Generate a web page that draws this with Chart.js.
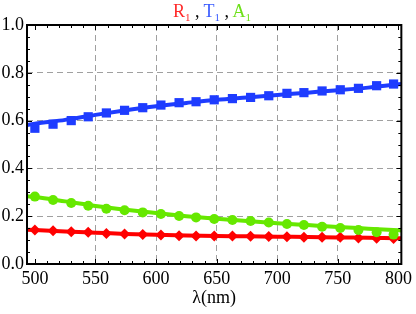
<!DOCTYPE html>
<html>
<head>
<meta charset="utf-8">
<script src="https://cdn.jsdelivr.net/npm/chart.js@4"></script>
<style>
  body { margin: 0; background: #fff; }
  #wrap { position: relative; width: 416px; height: 314px; }
  #title {
    position: absolute; top: 2px; left: 212px; transform: translateX(-50%);
    font: 18px "Liberation Serif", serif; line-height: 1; white-space: nowrap;
  }
  #title sub { font-size: 11px; vertical-align: -4px; line-height: 0; }
</style>
</head>
<body>
<div id="wrap">
  <canvas id="chart" width="416" height="314"></canvas>
  <div id="title"><span style="color:#ff2a2a">R<sub>1</sub></span> , <span style="color:#3a5cff">T<sub>1</sub></span> , <span style="color:#6ee01a">A<sub>1</sub></span></div>
</div>
<script>
// wavelengths of the measured points (nm)
const markerX = [500, 515, 530, 544, 559, 574, 589, 604, 619, 633, 648, 663, 678, 693, 708, 722, 737, 752, 767, 782, 796];
const reflectPts = [0.142, 0.139, 0.135, 0.133, 0.128, 0.126, 0.123, 0.121, 0.118, 0.117, 0.117, 0.117, 0.116, 0.115, 0.114, 0.112, 0.112, 0.112, 0.109, 0.108, 0.107];
const transPts = [0.568, 0.585, 0.600, 0.616, 0.632, 0.643, 0.654, 0.665, 0.675, 0.679, 0.687, 0.692, 0.697, 0.704, 0.714, 0.717, 0.724, 0.729, 0.735, 0.746, 0.753];
const absorbPts = [0.282, 0.268, 0.255, 0.244, 0.231, 0.225, 0.216, 0.209, 0.201, 0.195, 0.188, 0.184, 0.180, 0.174, 0.167, 0.163, 0.156, 0.151, 0.142, 0.133, 0.123];

// smooth curves
const lineX = [490, 500, 525, 550, 575, 600, 625, 650, 675, 700, 725, 750, 775, 800, 810];
const reflectLine = [0.144, 0.142, 0.136, 0.131, 0.126, 0.122, 0.119, 0.117, 0.116, 0.114, 0.113, 0.111, 0.110, 0.108, 0.107];
const transLine = [0.578, 0.587, 0.603, 0.624, 0.643, 0.660, 0.674, 0.687, 0.697, 0.707, 0.717, 0.727, 0.738, 0.752, 0.757];
const absorbLine = [0.285, 0.280, 0.262, 0.243, 0.227, 0.213, 0.200, 0.189, 0.180, 0.171, 0.163, 0.155, 0.148, 0.141, 0.138];

const xTicks = [500, 550, 600, 650, 700, 750, 800];
const yTicks = [0.0, 0.2, 0.4, 0.6, 0.8, 1.0];

const red = 'rgb(255,0,0)';
const blue = 'rgb(30,60,255)';
const green = 'rgb(102,232,0)';

function pts(xs, ys) {
  return xs.map((x, i) => ({x: x, y: ys[i]}));
}

function lineSet(ys, color) {
  return {
    data: pts(lineX, ys), showLine: true, borderColor: color, borderWidth: 4,
    pointRadius: 0, tension: 0.4, cubicInterpolationMode: 'monotone', order: 1
  };
}

function markerSet(ys, color, style, r) {
  return {
    data: pts(markerX, ys), showLine: false, pointStyle: style, pointRadius: r,
    backgroundColor: color, borderColor: color, borderWidth: 0, order: 0, clip: false
  };
}

// frame with inward ticks on all four sides
const framePlugin = {
  id: 'frame',
  afterDraw(chart) {
    const {ctx, chartArea: a, scales: {x, y}} = chart;
    ctx.save();
    ctx.strokeStyle = '#000';
    ctx.lineWidth = 1;
    ctx.beginPath();
    for (let v = 500; v <= 800; v += 10) {
      const px = Math.round(x.getPixelForValue(v)) + 0.5;
      const len = v % 50 === 0 ? 5 : 3;
      ctx.moveTo(px, a.bottom); ctx.lineTo(px, a.bottom - len);
      ctx.moveTo(px, a.top); ctx.lineTo(px, a.top + len);
    }
    for (let k = 0; k <= 20; k++) {
      const py = Math.round(y.getPixelForValue(k * 0.05)) + 0.5;
      const len = k % 4 === 0 ? 5 : 3;
      ctx.moveTo(a.left, py); ctx.lineTo(a.left + len, py);
      ctx.moveTo(a.right, py); ctx.lineTo(a.right - len, py);
    }
    ctx.stroke();
    ctx.lineWidth = 2;
    ctx.strokeRect(a.left, a.top, a.right - a.left, a.bottom - a.top);
    ctx.restore();
  }
};

const font = {family: '"Liberation Serif", serif', size: 18};

new Chart(document.getElementById('chart'), {
  type: 'scatter',
  data: {
    datasets: [
      markerSet(transPts, blue, 'rect', 6.5),
      markerSet(absorbPts, green, 'circle', 5),
      markerSet(reflectPts, red, 'rectRot', 5.5),
      lineSet(transLine, blue),
      lineSet(absorbLine, green),
      lineSet(reflectLine, red)
    ]
  },
  options: {
    responsive: false,
    animation: false,
    layout: {padding: {top: 25, right: 8, left: 0, bottom: 0}},
    plugins: {legend: {display: false}, tooltip: {enabled: false}},
    scales: {
      x: {
        type: 'linear', min: 493.5, max: 802.4,
        afterBuildTicks: s => { s.ticks = xTicks.map(v => ({value: v})); },
        afterFit: s => { s.height = 50; },
        ticks: {color: '#000', font: font, padding: 4, maxRotation: 0},
        grid: {
          drawTicks: false,
          color: c => (c.tick && c.tick.value > 500 && c.tick.value < 800) ? '#a0a0a0' : 'rgba(0,0,0,0)'
        },
        border: {display: false, dash: [6, 4]},
        title: {display: true, text: 'λ(nm)', color: '#000', font: font, padding: {top: 0, bottom: 5}}
      },
      y: {
        min: 0, max: 1,
        afterBuildTicks: s => { s.ticks = yTicks.map(v => ({value: v})); },
        afterFit: s => { s.width = 27; },
        ticks: {color: '#000', font: font, padding: 3, callback: v => v.toFixed(1)},
        grid: {
          drawTicks: false,
          color: c => (c.tick && c.tick.value > 0.01 && c.tick.value < 0.99) ? '#a0a0a0' : 'rgba(0,0,0,0)'
        },
        border: {display: false, dash: [6, 4]}
      }
    }
  },
  plugins: [framePlugin]
});
</script>
</body>
</html>
